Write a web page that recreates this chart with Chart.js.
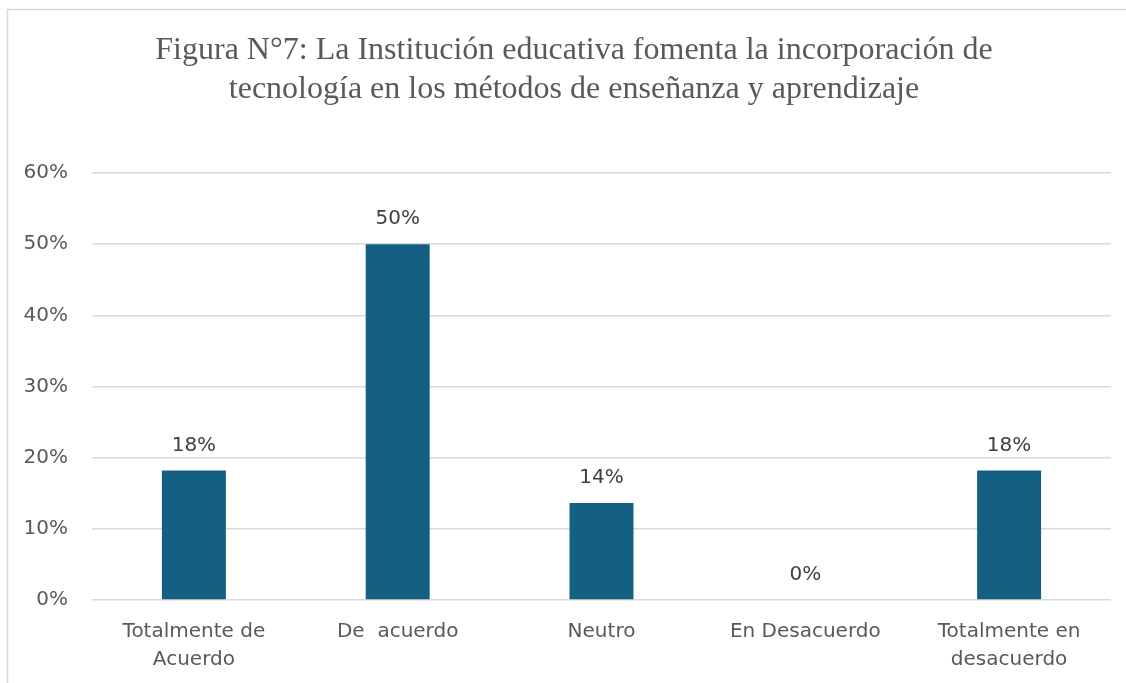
<!DOCTYPE html>
<html>
<head>
<meta charset="utf-8">
<script src="https://cdn.jsdelivr.net/npm/chart.js@4/dist/chart.umd.min.js"></script>
<style>
html,body{margin:0;padding:0;background:#fff;}
canvas{display:block;}
</style>
</head>
<body>
<canvas id="c" width="1126" height="683"></canvas>
<script>
const titleLines = ['Figura N°7: La Institución educativa fomenta la incorporación de', 'tecnología en los métodos de enseñanza y aprendizaje'];
const categories = [['Totalmente de', 'Acuerdo'], 'De  acuerdo', 'Neutro', 'En Desacuerdo', ['Totalmente en', 'desacuerdo']];
const values = [18.18, 50, 13.64, 0, 18.18];
const yTicks = [0, 10, 20, 30, 40, 50, 60];

const SANS = '"DejaVu Sans", sans-serif';
const TXT = '#595959';
const FS = 20;

const framePlugin = {
  id: 'frame',
  beforeDraw(chart) {
    const ctx = chart.ctx;
    ctx.save();
    ctx.fillStyle = '#fff';
    ctx.fillRect(0, 0, chart.width, chart.height);
    ctx.strokeStyle = '#d9d9d9';
    ctx.lineWidth = 1.5;
    ctx.beginPath();
    ctx.moveTo(7.5, chart.height);
    ctx.lineTo(7.5, 9.5);
    ctx.lineTo(chart.width, 9.5);
    ctx.stroke();
    // title
    ctx.fillStyle = TXT;
    ctx.font = '32px "Liberation Serif", "Times New Roman", serif';
    ctx.textAlign = 'center';
    ctx.textBaseline = 'alphabetic';
    titleLines.forEach((t, i) => ctx.fillText(t, 574, 59 + i * 39));
    ctx.restore();
  }
};

const labelPlugin = {
  id: 'valueLabels',
  afterDatasetsDraw(chart) {
    const ctx = chart.ctx;
    const meta = chart.getDatasetMeta(0);
    ctx.save();
    ctx.font = FS + 'px ' + SANS;
    ctx.fillStyle = '#404040';
    ctx.textAlign = 'center';
    ctx.textBaseline = 'middle';
    meta.data.forEach((el, i) => {
      ctx.fillText(Math.round(values[i]) + '%', el.x, el.y - 25);
    });
    ctx.restore();
  }
};

new Chart(document.getElementById('c'), {
  type: 'bar',
  data: {
    labels: categories,
    datasets: [{
      data: values,
      backgroundColor: '#156082',
      borderWidth: 0,
      categoryPercentage: 1,
      barPercentage: 0.314
    }]
  },
  options: {
    responsive: false,
    devicePixelRatio: 1,
    animation: false,
    layout: { padding: { left: 0, right: 15, top: 173, bottom: 0 } },
    plugins: {
      legend: { display: false },
      tooltip: { enabled: false },
      title: { display: false }
    },
    scales: {
      x: {
        grid: { display: false, drawTicks: false },
        border: { display: false },
        ticks: { color: TXT, font: { family: SANS, size: FS, lineHeight: 1.43 }, padding: 17, maxRotation: 0, autoSkip: false },
        afterFit(scale) { scale.height = 83; }
      },
      y: {
        min: 0,
        max: yTicks[yTicks.length - 1],
        afterBuildTicks(scale) { scale.ticks = yTicks.map(v => ({ value: v })); },
        grid: { color: '#d9d9d9', lineWidth: 1.5, drawTicks: false },
        border: { display: false },
        ticks: { color: TXT, font: { family: SANS, size: FS }, padding: 24, callback: v => v + '%' },
        afterFit(scale) { scale.width = 92; }
      }
    }
  },
  plugins: [framePlugin, labelPlugin]
});
</script>
</body>
</html>
